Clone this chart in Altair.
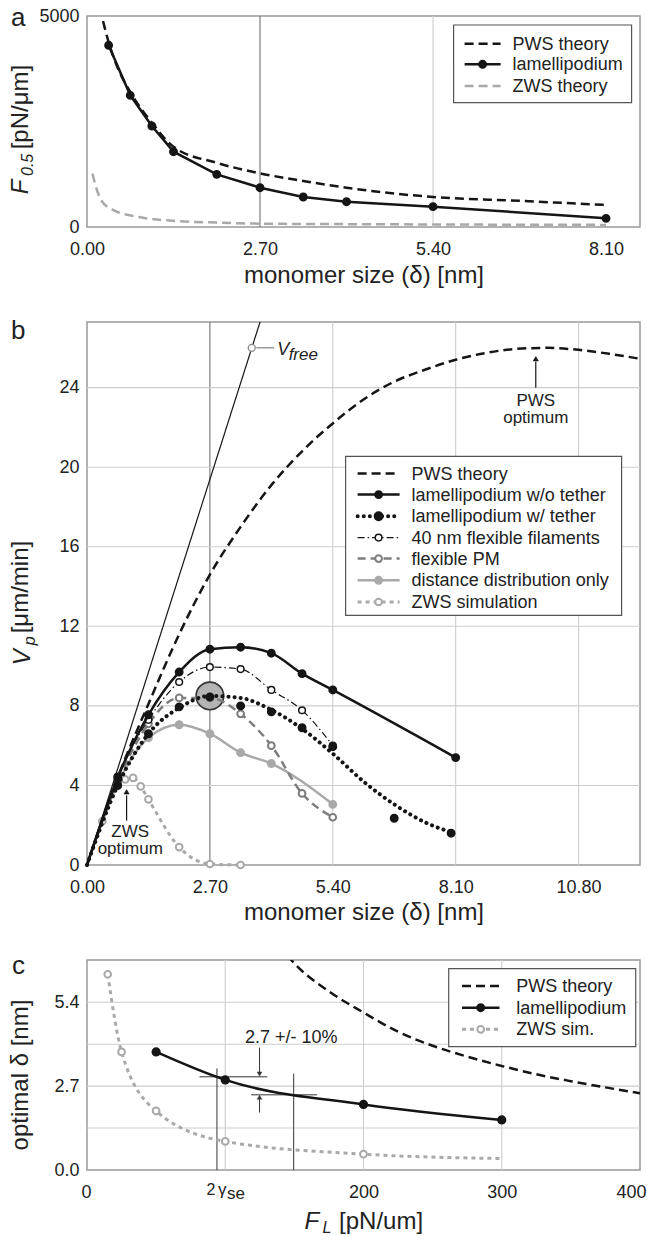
import altair as alt
import pandas as pd

FONT = "Liberation Sans"
BLACK = "#151515"
TXT = "#222222"
GREY_D = "#7d7d7d"
GREY_L = "#a9a9a9"
GRID = "#cdcdcd"
GRID_D = "#727272"

# ---------------- panel a data ----------------
a_lam_x = [0.3375, 0.675, 1.0125, 1.35, 2.025, 2.7, 3.375, 4.05, 5.4, 8.1]
a_lam_y = [4305, 3120, 2393, 1785, 1248, 932, 711, 600, 482, 205]
a_pws_x = [0.25, 0.3375, 0.5, 0.675, 1.0125, 1.35, 2.025, 2.7, 3.375, 4.05, 5.4, 6.75, 8.1]
a_pws_y = [4880, 4380, 3700, 3200, 2470, 1900, 1520, 1272, 1090, 930, 711, 620, 521]
a_zws_x = [0.085, 0.15, 0.23, 0.42, 0.81, 1.4, 2.05, 2.7, 4.05, 5.4, 8.1]
a_zws_y = [1264, 900, 616, 395, 237, 142, 103, 79, 68, 60, 50]
a_grid_x = [2.7, 5.4]
a_grid_c = [GRID_D, GRID]
a_ticks_x = [0, 2.7, 5.4, 8.1]
a_ticks_y = [0, 5000]

# ---------------- panel b data ----------------
b_pws_x = [0, 0.675, 1.35, 2.025, 2.7, 3.375, 4.05, 4.725, 5.4, 6.075, 6.75, 7.425, 8.1,
           8.775, 9.45, 10.125, 10.8, 11.475, 12.15]
b_pws_y = [0, 4.4, 8.1, 11.6, 14.6, 17.0, 19.1, 20.8, 22.2, 23.4, 24.3, 24.9, 25.4,
           25.75, 25.95, 26.0, 25.9, 25.7, 25.45]
b_free_x = [0, 3.9]
b_free_y = [0, 28.0]
b_wo_x = [0.675, 1.35, 2.025, 2.7, 3.375, 4.05, 4.725, 5.4, 8.1]
b_wo_y = [4.4, 7.55, 9.7, 10.85, 10.95, 10.65, 9.62, 8.8, 5.4]
b_w_x = [0.675, 1.35, 2.025, 2.7, 3.375, 4.05, 4.725, 5.4, 6.75, 8.0]
b_w_y = [4.0, 6.6, 7.95, 8.45, 8.0, 7.7, 6.9, 5.95, 2.35, 1.6]
b_wfit_x = [0, 0.675, 1.35, 2.025, 2.7, 3.375, 4.05, 4.725, 5.4, 6.075, 6.75, 7.425, 8.0]
b_wfit_y = [0, 4.0, 6.6, 7.9, 8.5, 8.4, 7.8, 6.85, 5.6, 4.2, 3.05, 2.15, 1.65]
b_40_x = [0.675, 1.35, 2.025, 2.7, 3.375, 4.05, 4.725, 5.4]
b_40_y = [4.45, 7.3, 9.2, 9.95, 9.85, 8.8, 7.78, 6.0]
b_pm_x = [0.675, 1.35, 2.025, 2.7, 3.375, 4.05, 4.725, 5.4]
b_pm_y = [4.2, 7.1, 8.4, 8.4, 7.6, 6.0, 3.6, 2.4]
b_dd_x = [0.675, 1.35, 2.025, 2.7, 3.375, 4.05, 5.4]
b_dd_y = [4.1, 6.4, 7.05, 6.6, 5.65, 5.1, 3.05]
b_zws_x = [0.3375, 0.675, 0.84, 1.0125, 1.18, 1.35, 2.025, 2.7, 3.375]
b_zws_y = [2.2, 4.0, 4.3, 4.38, 3.95, 3.3, 0.9, 0.05, 0.0]
b_hl = [2.7, 8.5]
b_vfree_pt = [3.62, 26.0]
b_grid_x = [2.7, 5.4, 8.1, 10.8]
b_grid_xc = [GRID_D, GRID, GRID, GRID]
b_grid_y = [4, 8, 12, 16, 20, 24]
b_ticks_x = [0, 2.7, 5.4, 8.1, 10.8]
b_ticks_y = [0, 4, 8, 12, 16, 20, 24]

# ---------------- panel c data ----------------
c_lam_x = [50, 100, 200, 300]
c_lam_y = [3.80, 2.90, 2.11, 1.61]
c_zws_x = [15, 25, 50, 100, 200]
c_zws_y = [6.3, 3.8, 1.9, 0.92, 0.51]
c_zwsl_x = [15, 25, 50, 100, 200, 300]
c_zwsl_y = [6.3, 3.8, 1.9, 0.92, 0.51, 0.37]
c_pws_x = [145, 150, 175, 200, 225, 250, 275, 300, 325, 350, 375, 400]
c_pws_y = [6.9, 6.65, 5.75, 5.07, 4.45, 4.0, 3.65, 3.35, 3.08, 2.86, 2.66, 2.47]
c_grid_x = [100, 200, 300]
c_grid_y = [1.35, 2.7, 4.05, 5.4]
c_ticks_x = [0, 100, 200, 300, 400]
c_ticks_y = [0, 2.7, 5.4]
c_vlines_x = [94, 149.5]
c_vlines_top = [3.27, 3.1]
c_hlines_x1 = [81.4, 118.8]
c_hlines_x2 = [130.4, 166.5]
c_hlines_y = [3.0, 2.42]

W = 553
HA, HB, HC = 211, 543, 210
ONE = pd.DataFrame({"k": [0]})


def sc(lo, hi):
    return alt.Scale(domain=[lo, hi], nice=False, zero=False)


def mkaxis(vals, fmt, pad, expr=None, flush=False, flush_off=0):
    kw = dict(values=vals, format=fmt, labelPadding=pad, title=None, labelFlush=flush)
    if flush:
        kw["labelFlushOffset"] = flush_off
    if expr:
        kw["labelExpr"] = expr
    return alt.Axis(**kw)


class P:
    def __init__(self, xs, ys, xa, ya):
        self.xs, self.ys, self.xa, self.ya = xs, ys, xa, ya

    def X(self, f="x:Q"):
        return alt.X(f, scale=self.xs, axis=self.xa)

    def Y(self, f="y:Q"):
        return alt.Y(f, scale=self.ys, axis=self.ya)


PA = P(sc(0, 8.63), sc(0, 5000), mkaxis(a_ticks_x, ".2f", 13), mkaxis(a_ticks_y, "d", 8))
PB = P(sc(0, 12.15), sc(0, 27.3), mkaxis(b_ticks_x, ".2f", 13), mkaxis(b_ticks_y, "d", 8))
PC = P(sc(0, 400), sc(0, 6.76),
       mkaxis(c_ticks_x, "d", 13, "datum.value == 100 ? '' : datum.label", True, 6),
       mkaxis(c_ticks_y, ".1f", 8))


def line(p, x, y, color, width, dash=None, interp="linear", clip=False, cap="butt"):
    props = dict(color=color, strokeWidth=width, interpolate=interp, clip=clip, strokeCap=cap)
    if dash:
        props["strokeDash"] = dash
    return alt.Chart(pd.DataFrame({"x": x, "y": y})).mark_line(**props).encode(x=p.X(), y=p.Y())


def pts(p, x, y, fill, stroke, size=55, sw=1.5, shape="circle"):
    return alt.Chart(pd.DataFrame({"x": x, "y": y})).mark_point(
        shape=shape, filled=True, fill=fill, stroke=stroke, strokeWidth=sw, size=size,
        opacity=1, fillOpacity=1).encode(x=p.X(), y=p.Y())


def dtext(p, txt, x, y, size=18, align="center", style="normal"):
    return alt.Chart(pd.DataFrame({"x": [x], "y": [y]})).mark_text(
        text=txt, font=FONT, fontSize=size, align=align, baseline="alphabetic",
        fontStyle=style, color=TXT).encode(x=p.X(), y=p.Y())


def ptext(txt, x, y, size=18, align="left", angle=0, style="normal"):
    return alt.Chart(ONE).mark_text(
        text=txt, font=FONT, fontSize=size, align=align, baseline="alphabetic",
        angle=angle, fontStyle=style, color=TXT).encode(x=alt.value(x), y=alt.value(y))


def drule(p, x1, y1, x2, y2, color=BLACK, width=1.0):
    d = pd.DataFrame({"x": [x1], "y": [y1], "x2": [x2], "y2": [y2]})
    return alt.Chart(d).mark_rule(color=color, strokeWidth=width).encode(
        x=p.X(), y=p.Y(), x2="x2:Q", y2="y2:Q")


def vgrid(p, xv, cols):
    d = pd.DataFrame({"x": xv, "c": cols})
    return alt.Chart(d).mark_rule(strokeWidth=1.1).encode(
        x=p.X(), color=alt.Color("c:N", scale=None))


def hgrid(p, yv):
    d = pd.DataFrame({"y": yv})
    return alt.Chart(d).mark_rule(strokeWidth=1.1, color=GRID).encode(y=p.Y())


def lbox(x1, y1, x2, y2):
    return alt.Chart(ONE).mark_rect(fill="white", stroke="#555555", strokeWidth=1.2).encode(
        x=alt.value(x1), x2=alt.value(x2), y=alt.value(y1), y2=alt.value(y2))


def lline(x1, x2, y, color, width, dash=None, cap="butt"):
    props = dict(color=color, strokeWidth=width, strokeCap=cap)
    if dash:
        props["strokeDash"] = dash
    return alt.Chart(ONE).mark_rule(**props).encode(x=alt.value(x1), x2=alt.value(x2), y=alt.value(y))


def lmark(x, y, fill, stroke, size=55, sw=1.5):
    return alt.Chart(ONE).mark_point(shape="circle", filled=True, fill=fill, stroke=stroke,
                                     strokeWidth=sw, size=size, opacity=1).encode(
        x=alt.value(x), y=alt.value(y))


DOT = [0.1, 6]

# ================= panel a =================
leg_a_y = [27.7, 48.3, 70]
pa = alt.layer(
    alt.Chart(ONE).mark_rect(opacity=0).encode(x=alt.value(-85.4), x2=alt.value(0),
                                               y=alt.value(-15), y2=alt.value(0)),
    vgrid(PA, a_grid_x, a_grid_c),
    line(PA, a_zws_x, a_zws_y, GREY_L, 2.5, [9, 5], "monotone"),
    line(PA, a_pws_x, a_pws_y, BLACK, 2.5, [9, 5], "monotone"),
    line(PA, a_lam_x, a_lam_y, BLACK, 2.5),
    pts(PA, a_lam_x, a_lam_y, BLACK, BLACK, 55),
    lbox(366.6, 9, 544.6, 86.7),
    lline(377.6, 413.6, leg_a_y[0], BLACK, 2.5, [9, 5]),
    lline(377.6, 413.6, leg_a_y[1], BLACK, 2.5),
    lmark(395.6, leg_a_y[1], BLACK, BLACK),
    lline(377.6, 413.6, leg_a_y[2], GREY_L, 2.5, [9, 5]),
    ptext("PWS theory", 425.6, leg_a_y[0] + 6),
    ptext("lamellipodium", 425.6, leg_a_y[1] + 6),
    ptext("ZWS theory", 425.6, leg_a_y[2] + 6),
    ptext("a", -76, 10, size=26),
    ptext("F", -59, 178.3, size=24, angle=270, style="italic"),
    ptext("0.5", -54, 160, size=16, angle=270, style="italic"),
    ptext("[pN/μm]", -59, 133.3, size=24, angle=270),
    ptext("monomer size (δ) [nm]", 277, 266.7, size=24, align="center"),
).properties(width=W, height=HA)

# ================= panel b =================
leg_b_y = [151.6, 172.6, 194.3, 215.6, 236.6, 258.3, 280]
lx1, lx2, lmx, ltx = 270.6, 312.6, 291.6, 324.6
pb = alt.layer(
    vgrid(PB, b_grid_x, b_grid_xc),
    hgrid(PB, b_grid_y),
    pts(PB, [b_hl[0]], [b_hl[1]], "#b4b4b4", "#333333", 760, 1.6),
    line(PB, [0] + b_zws_x, [0] + b_zws_y, GREY_L, 3, [4, 4], "monotone"),
    pts(PB, b_zws_x, b_zws_y, "white", GREY_L, 45, 2),
    line(PB, [0] + b_dd_x, [0] + b_dd_y, GREY_L, 2.5, None, "monotone"),
    pts(PB, b_dd_x, b_dd_y, GREY_L, GREY_L, 55),
    line(PB, [0] + b_pm_x, [0] + b_pm_y, GREY_D, 2.5, [8, 5], "monotone"),
    pts(PB, b_pm_x, b_pm_y, "white", GREY_D, 45, 2),
    line(PB, [0] + b_40_x, [0] + b_40_y, BLACK, 1.2, [7, 3, 1.5, 3], "monotone"),
    pts(PB, b_40_x, b_40_y, "white", BLACK, 45, 1.5),
    line(PB, b_wfit_x, b_wfit_y, BLACK, 4, DOT, "monotone", cap="round"),
    pts(PB, b_w_x, b_w_y, BLACK, BLACK, 55),
    line(PB, [0] + b_wo_x, [0] + b_wo_y, BLACK, 2.5, None, "monotone"),
    pts(PB, b_wo_x, b_wo_y, BLACK, BLACK, 55),
    line(PB, b_pws_x, b_pws_y, BLACK, 2.5, [9, 5], "monotone", clip=True),
    line(PB, b_free_x, b_free_y, BLACK, 1.2, None, "linear", clip=True),
    pts(PB, [b_vfree_pt[0]], [b_vfree_pt[1]], "white", "#888888", 50, 1.3),
    drule(PB, 3.72, 26.0, 4.11, 26.0, "#666666", 1),
    dtext(PB, "V", 4.18, 25.64, 18, "left", "italic"),
    dtext(PB, "free", 4.43, 25.38, 17, "left", "italic"),
    drule(PB, 9.86, 24.0, 9.86, 25.3, BLACK, 1.2),
    pts(PB, [9.86], [25.45], BLACK, BLACK, 28, 0.5, "triangle-up"),
    dtext(PB, "PWS", 9.86, 23.07, 17),
    dtext(PB, "optimum", 9.86, 22.2, 17),
    drule(PB, 0.87, 2.23, 0.87, 3.5, BLACK, 1.2),
    pts(PB, [0.87], [3.68], BLACK, BLACK, 28, 0.5, "triangle-up"),
    dtext(PB, "ZWS", 0.95, 1.42, 17),
    dtext(PB, "optimum", 0.95, 0.55, 17),
    lbox(258.6, 134.3, 534.6, 293.3),
    lline(lx1, lx2, leg_b_y[0], BLACK, 2.5, [9, 5]),
    lline(lx1, lx2, leg_b_y[1], BLACK, 2.5),
    lmark(lmx, leg_b_y[1], BLACK, BLACK),
    lline(lx1, lx2, leg_b_y[2], BLACK, 4, DOT, "round"),
    lmark(lmx, leg_b_y[2], BLACK, BLACK, 70),
    lline(lx1, lx2, leg_b_y[3], BLACK, 1.2, [7, 3, 1.5, 3]),
    lmark(lmx, leg_b_y[3], "white", BLACK, 45),
    lline(lx1, lx2, leg_b_y[4], GREY_D, 2.5, [8, 5]),
    lmark(lmx, leg_b_y[4], "white", GREY_D, 45, 2),
    lline(lx1, lx2, leg_b_y[5], GREY_L, 2.5),
    lmark(lmx, leg_b_y[5], GREY_L, GREY_L),
    lline(lx1, lx2, leg_b_y[6], GREY_L, 3, [4, 4]),
    lmark(lmx, leg_b_y[6], "white", GREY_L, 45, 2),
    ptext("PWS theory", ltx, leg_b_y[0] + 6),
    ptext("lamellipodium w/o tether", ltx, leg_b_y[1] + 6),
    ptext("lamellipodium w/ tether", ltx, leg_b_y[2] + 6),
    ptext("40 nm flexible filaments", ltx, leg_b_y[3] + 6),
    ptext("flexible PM", ltx, leg_b_y[4] + 6),
    ptext("distance distribution only", ltx, leg_b_y[5] + 6),
    ptext("ZWS simulation", ltx, leg_b_y[6] + 6),
    ptext("b", -76, 16.6, size=26),
    ptext("V", -57, 343.3, size=24, angle=270, style="italic"),
    ptext("p", -52, 323.3, size=16, angle=270, style="italic"),
    ptext("[μm/min]", -59, 311.3, size=24, angle=270),
    ptext("monomer size (δ) [nm]", 277, 598.3, size=24, align="center"),
).properties(width=W, height=HB)

# ================= panel c =================
leg_c_y = [26, 47.7, 69.3]
pc = alt.layer(
    vgrid(PC, c_grid_x, [GRID] * len(c_grid_x)),
    hgrid(PC, c_grid_y),
    drule(PC, c_vlines_x[0], 0, c_vlines_x[0], c_vlines_top[0], "#333333", 1),
    drule(PC, c_vlines_x[1], 0, c_vlines_x[1], c_vlines_top[1], "#333333", 1),
    drule(PC, c_hlines_x1[0], c_hlines_y[0], c_hlines_x2[0], c_hlines_y[0], "#333333", 1),
    drule(PC, c_hlines_x1[1], c_hlines_y[1], c_hlines_x2[1], c_hlines_y[1], "#333333", 1),
    drule(PC, 124.8, 3.94, 124.8, 3.15, "#333333", 1),
    pts(PC, [124.8], [3.09], "#333333", "#333333", 22, 0.5, "triangle-down"),
    drule(PC, 124.8, 1.85, 124.8, 2.28, "#333333", 1),
    pts(PC, [124.8], [2.34], "#333333", "#333333", 22, 0.5, "triangle-up"),
    dtext(PC, "2.7 +/- 10%", 147.8, 4.10),
    line(PC, c_zwsl_x, c_zwsl_y, GREY_L, 3, [4, 4], "monotone"),
    pts(PC, c_zws_x, c_zws_y, "white", GREY_L, 45, 2),
    line(PC, c_lam_x, c_lam_y, BLACK, 2.5, None, "monotone"),
    pts(PC, c_lam_x, c_lam_y, BLACK, BLACK, 60),
    line(PC, c_pws_x, c_pws_y, BLACK, 2.5, [9, 5], "monotone", clip=True),
    lbox(361.7, 8.7, 548.7, 86.7),
    lline(375, 412.5, leg_c_y[0], BLACK, 2.5, [9, 5]),
    lline(375, 412.5, leg_c_y[1], BLACK, 2.5),
    lmark(393.7, leg_c_y[1], BLACK, BLACK),
    lline(375, 412.5, leg_c_y[2], GREY_L, 3, [4, 4]),
    lmark(393.7, leg_c_y[2], "white", GREY_L, 45, 2),
    ptext("PWS theory", 429.2, leg_c_y[0] + 6),
    ptext("lamellipodium", 429.2, leg_c_y[1] + 6),
    ptext("ZWS sim.", 429.2, leg_c_y[2] + 6),
    ptext("c", -75, 14.3, size=26),
    ptext("optimal δ [nm]", -59, 115, size=24, align="center", angle=270),
    ptext("F", 217.6, 268.7, size=24, style="italic"),
    ptext("L", 235.6, 273, size=16, style="italic"),
    ptext("[pN/um]", 252.1, 268.7, size=24),
    ptext("2", 119.6, 235, size=16),
    ptext("γ", 131, 235, size=17),
    ptext("se", 140, 239.3, size=17),
).properties(width=W, height=HC)

chart = alt.vconcat(pa, pb, pc, spacing=95, bounds="flush").properties(
    padding={"left": 0, "top": 0, "right": 0, "bottom": 0}
).configure_view(stroke="#999999", strokeWidth=1.5).configure_axis(
    labelFont=FONT, labelFontSize=18, labelColor=TXT, domain=False, ticks=False, grid=False
)

chart.save("out.html", embed_options={"renderer": "svg", "actions": False})
